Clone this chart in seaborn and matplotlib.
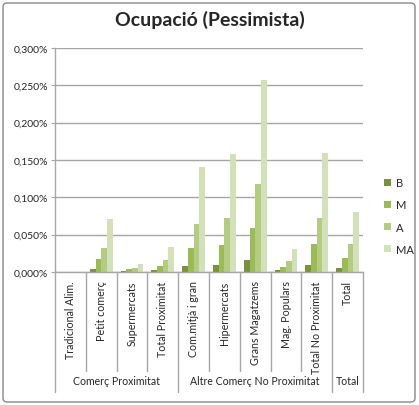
import matplotlib
matplotlib.use("Agg")
import matplotlib.pyplot as plt
import matplotlib.transforms as mtransforms
from matplotlib.patches import Patch, FancyBboxPatch
import seaborn as sns
import pandas as pd

categories = ["Tradicional Alim.", "Petit comerç", "Supermercats", "Total Proximitat",
              "Com.mitjà i gran", "Hipermercats", "Grans Magatzems", "Mag. Populars",
              "Total No Proximitat", "Total"]
series = ["B", "M", "A", "MA"]
val_B = [0.0, 0.0040, 0.0013, 0.0030, 0.0084, 0.0098, 0.0155, 0.0030, 0.0098, 0.0054]
val_M = [0.0, 0.0169, 0.0040, 0.0084, 0.0326, 0.0362, 0.0594, 0.0070, 0.0375, 0.0188]
val_A = [0.0, 0.0326, 0.0050, 0.0165, 0.0647, 0.0727, 0.1180, 0.0142, 0.0727, 0.0375]
val_MA = [0.0, 0.0705, 0.0107, 0.0335, 0.1410, 0.1585, 0.2576, 0.0303, 0.1600, 0.0798]
groups = ["Comerç Proximitat", "Altre Comerç No Proximitat", "Total"]
group_sizes = [4, 5, 1]
yticks = [0.0, 0.05, 0.10, 0.15, 0.20, 0.25, 0.30]
ytick_labels = ["0,000%", "0,050%", "0,100%", "0,150%", "0,200%", "0,250%", "0,300%"]
colors = ["#77933C", "#9BBB59", "#B3CC82", "#D2E1B8"]

rows = []
for s, vals in zip(series, [val_B, val_M, val_A, val_MA]):
    for c, v in zip(categories, vals):
        rows.append({"cat": c, "serie": s, "val": v})
df = pd.DataFrame(rows)

sns.set_style("white")
plt.rcParams["font.family"] = ["Lato", "DejaVu Sans"]

fig = plt.figure(figsize=(4.19, 4.06), dpi=100)
W, H = 419, 406
ax = fig.add_axes([55 / W, 1 - 273 / H, (363 - 55) / W, (273 - 49) / H])

sns.barplot(data=df, x="cat", y="val", hue="serie", palette=colors, width=0.74,
            saturation=1, ax=ax, legend=False, order=categories, hue_order=series)
for p in ax.patches:
    p.set_linewidth(0)

ax.set_ylim(0, 0.30)
ax.set_xlim(-0.5, len(categories) - 0.5)
ax.set_yticks(yticks)
ax.set_yticklabels(ytick_labels, fontsize=7.5)
ax.yaxis.grid(True, color="#A6A6A6", linewidth=1)
ax.set_axisbelow(True)
ax.set_xlabel("")
ax.set_ylabel("")
ax.set_xticks(range(len(categories)))
ax.set_xticklabels(categories, rotation=90, va="top", fontsize=7.7)
ax.tick_params(axis="x", length=0, pad=6)
ax.tick_params(axis="y", length=3, color="#A6A6A6", left=True, pad=2)
for side in ["top", "right"]:
    ax.spines[side].set_visible(False)
for side in ["left", "bottom"]:
    ax.spines[side].set_color("#A6A6A6")
    ax.spines[side].set_linewidth(1)

trans = mtransforms.blended_transform_factory(ax.transData, ax.transAxes)
inner_len = (273 - 372) / 224
outer_len = (273 - 393) / 224
bounds = [0]
for g in group_sizes:
    bounds.append(bounds[-1] + g)
for i in range(len(categories) + 1):
    x = i - 0.5
    y1 = outer_len if i in bounds else inner_len
    ax.plot([x, x], [0, y1], color="#A6A6A6", lw=1, transform=trans, clip_on=False)
for g, a, b in zip(groups, bounds[:-1], bounds[1:]):
    ax.text((a + b - 1) / 2, (273 - 382) / 224, g, transform=trans, ha="center",
            va="center", fontsize=7.6)

handles = [Patch(facecolor=c, edgecolor="none") for c in colors]
fig.legend(handles, series, loc="center left", bbox_to_anchor=(374 / W, 1 - 217 / H),
           frameon=False, handlelength=0.6, handleheight=0.6, handletextpad=0.5,
           labelspacing=1.0, fontsize=8)

fig.text(210 / W, 1 - 20 / H, "Ocupació (Pessimista)", ha="center", va="center",
         fontsize=14, fontweight="bold")

fig.patches.append(FancyBboxPatch((3 / W, 3 / H), 412 / W, 399 / H,
                                  boxstyle="round,pad=0,rounding_size=0.01",
                                  transform=fig.transFigure, facecolor="none",
                                  edgecolor="#888888", linewidth=1))

fig.savefig("out.png", dpi=100)
